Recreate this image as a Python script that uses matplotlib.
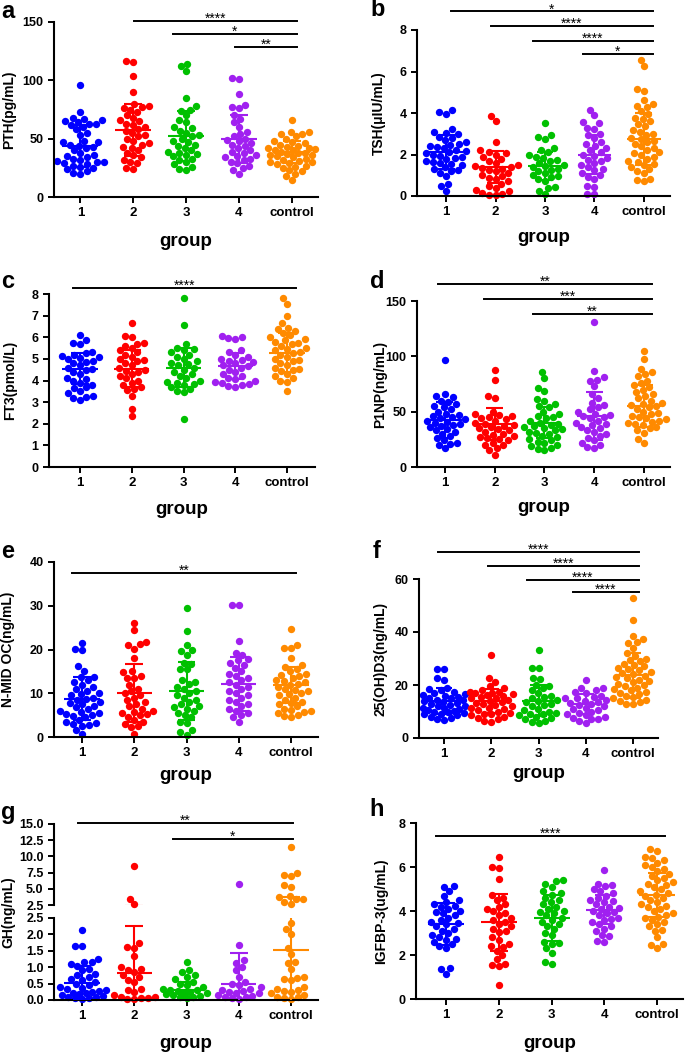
import numpy as np
import matplotlib.pyplot as plt

plt.rcParams['font.family'] = ['Liberation Sans', 'DejaVu Sans']
plt.rcParams['font.weight'] = 'bold'

groups = ['1', '2', '3', '4', 'control']
colors = ['#0000ff', '#ff0000', '#00c000', '#a020f0', '#ff8a00']

# a: PTH
pth = [
    [96, 73, 68, 67, 66, 65, 64, 63, 63, 62, 60, 58, 55, 53, 48, 47, 47, 45, 44, 43,
     42, 40, 38, 36, 35, 34, 33, 32, 31, 30, 30, 29, 28, 27, 26, 25, 24, 22, 21, 20],
    [117, 116, 104, 90, 80, 78, 77, 76, 75, 73, 70, 68, 66, 65, 63, 62, 60, 58, 57, 55,
     53, 52, 50, 48, 46, 45, 43, 42, 40, 38, 36, 34, 32, 30, 29, 25, 24],
    [114, 112, 108, 85, 78, 75, 74, 70, 66, 64, 60, 59, 57, 55, 53, 52, 50, 48, 47, 45,
     44, 42, 40, 39, 38, 37, 36, 35, 33, 32, 30, 28, 26, 24, 23],
    [102, 101, 88, 79, 77, 76, 70, 67, 64, 60, 56, 54, 52, 50, 49, 48, 46, 45, 44, 42,
     40, 39, 38, 36, 35, 34, 33, 32, 30, 29, 27, 25, 23, 20],
    [66, 56, 56, 54, 54, 52, 50, 48, 47, 46, 45, 44, 43, 42, 42, 41, 40, 40, 39, 38,
     38, 37, 36, 36, 35, 34, 33, 32, 31, 30, 30, 29, 28, 27, 26, 25, 23, 22, 20, 18, 15],
]
pth_mean = [44, 57.5, 52, 49.5, 38.5]
pth_sd = [18, 22.5, 21.5, 20.5, 9.5]
pth_sig = [(1.02, 4.1, 150.9, '****'), (1.75, 4.1, 139.7, '*'), (2.92, 4.1, 128.6, '**')]

# b: TSH
tsh = [
    [4.15, 4.05, 3.95, 3.25, 3.1, 3.05, 3.0, 2.85, 2.8, 2.7, 2.6, 2.5, 2.4, 2.35, 2.3,
     2.2, 2.15, 2.1, 2.05, 2.0, 1.9, 1.85, 1.8, 1.7, 1.65, 1.6, 1.5, 1.4, 1.3, 1.25,
     1.2, 1.1, 0.95, 0.6, 0.5, 0.25, 2.45, 1.95, 1.55],
    [3.85, 3.6, 2.6, 2.2, 2.1, 2.05, 2.0, 1.9, 1.8, 1.7, 1.6, 1.5, 1.45, 1.4, 1.35,
     1.3, 1.25, 1.2, 1.1, 1.0, 0.95, 0.85, 0.8, 0.7, 0.6, 0.5, 0.4, 0.3, 0.25, 0.15,
     0.1, 0.05, 0.05],
    [3.5, 2.95, 2.85, 2.75, 2.3, 2.2, 2.1, 2.0, 1.9, 1.85, 1.75, 1.7, 1.6, 1.5, 1.45,
     1.4, 1.3, 1.25, 1.2, 1.1, 1.0, 0.95, 0.9, 0.8, 0.7, 0.45, 0.4, 0.25, 0.1],
    [4.15, 3.9, 3.55, 3.5, 3.3, 3.25, 3.0, 2.95, 2.8, 2.6, 2.5, 2.4, 2.3, 2.2, 2.1,
     2.0, 1.95, 1.85, 1.75, 1.7, 1.6, 1.5, 1.4, 1.3, 1.25, 1.1, 1.0, 0.9, 0.8, 0.5,
     0.45, 0.1, 0.1],
    [6.55, 6.25, 5.15, 5.05, 4.65, 4.45, 4.35, 4.3, 4.1, 3.95, 3.75, 3.7, 3.6, 3.45,
     3.35, 3.2, 3.1, 3.0, 2.95, 2.8, 2.75, 2.65, 2.6, 2.5, 2.4, 2.3, 2.2, 2.1, 2.05,
     2.0, 1.9, 1.8, 1.7, 1.65, 1.55, 1.5, 1.4, 1.3, 1.2, 1.1, 0.8, 0.75, 0.7],
]
tsh_mean = [2.14, 1.4, 1.46, 2.0, 2.73]
tsh_sd = [0.82, 0.78, 0.68, 0.95, 1.25]
tsh_sig = [(0.1, 4.18, 8.9, '*'), (0.91, 4.18, 8.19, '****'),
           (1.76, 4.18, 7.47, '****'), (2.77, 4.18, 6.84, '*')]

# c: FT3
ft3 = [
    [6.1, 5.85, 5.75, 5.7, 5.3, 5.25, 5.2, 5.15, 5.1, 5.05, 5.0, 4.9, 4.85, 4.8, 4.7,
     4.6, 4.55, 4.5, 4.4, 4.3, 4.1, 4.05, 4.0, 3.9, 3.8, 3.7, 3.65, 3.5, 3.4, 3.3,
     3.25, 3.2, 3.1],
    [6.65, 6.05, 6.0, 5.75, 5.7, 5.6, 5.5, 5.4, 5.3, 5.2, 5.1, 5.0, 4.95, 4.9, 4.8,
     4.7, 4.6, 4.5, 4.45, 4.4, 4.3, 4.2, 4.1, 4.0, 3.9, 3.8, 3.7, 3.6, 3.55, 3.3,
     2.7, 2.35],
    [7.8, 6.55, 5.7, 5.5, 5.45, 5.4, 5.3, 5.2, 5.1, 5.0, 4.9, 4.8, 4.75, 4.7, 4.6,
     4.5, 4.4, 4.3, 4.2, 4.1, 4.0, 3.95, 3.9, 3.85, 3.8, 3.7, 3.6, 3.5, 3.45, 2.2],
    [6.05, 6.0, 5.95, 5.9, 5.4, 5.3, 5.2, 5.1, 5.0, 4.95, 4.9, 4.85, 4.8, 4.7, 4.65,
     4.6, 4.5, 4.4, 4.3, 4.2, 4.1, 4.05, 4.0, 3.95, 3.9, 3.85, 3.8, 3.75, 3.7],
    [7.8, 7.55, 7.0, 6.65, 6.45, 6.4, 6.3, 6.2, 6.1, 6.0, 5.9, 5.85, 5.8, 5.75, 5.7,
     5.6, 5.5, 5.45, 5.4, 5.3, 5.25, 5.2, 5.1, 5.0, 4.95, 4.9, 4.8, 4.7, 4.6, 4.55,
     4.5, 4.45, 4.3, 4.2, 4.1, 4.0, 3.95, 3.5],
]
ft3_mean = [4.55, 4.55, 4.6, 4.66, 5.29]
ft3_sd = [0.7, 0.85, 0.92, 0.6, 0.92]
ft3_sig = [(-0.13, 4.17, 8.28, '****')]

# d: P1NP
p1np = [
    [97, 66, 64, 63, 60, 59, 57, 55, 54, 52, 50, 48, 47, 46, 45, 44, 43, 42, 41, 40,
     39, 38, 37, 36, 34, 33, 32, 30, 28, 26, 24, 22, 21, 20, 17],
    [88, 79, 64, 62, 50, 48, 47, 46, 45, 44, 43, 42, 40, 39, 38, 37, 36, 35, 34, 33,
     32, 30, 29, 28, 27, 26, 25, 24, 22, 20, 20, 17, 15, 11],
    [86, 80, 71, 69, 61, 60, 57, 55, 54, 50, 48, 46, 45, 44, 42, 40, 39, 38, 37, 36,
     35, 34, 33, 32, 31, 30, 28, 27, 25, 24, 23, 22, 20, 19, 17, 16, 15],
    [131, 87, 81, 79, 78, 73, 66, 62, 58, 56, 54, 52, 50, 48, 47, 46, 45, 44, 42, 40,
     39, 38, 36, 35, 33, 32, 30, 28, 26, 24, 22, 20, 18, 17],
    [105, 98, 89, 86, 84, 82, 78, 76, 74, 72, 70, 68, 66, 64, 62, 60, 58, 57, 56, 55,
     54, 52, 50, 49, 48, 46, 45, 44, 43, 42, 41, 40, 39, 38, 36, 35, 33, 31, 25, 22],
]
p1np_mean = [42.5, 38.5, 40, 46.2, 55.5]
p1np_sd = [16, 14.5, 14, 22, 19]
p1np_sig = [(-0.14, 4.16, 165.3, '**'), (0.78, 4.16, 151.8, '***'), (1.76, 4.16, 138.2, '**')]

# e: N-MID OC
nmid = [
    [21.5, 20.2, 19.8, 16.2, 15.2, 13.8, 13.7, 13.0, 12.5, 12.0, 11.5, 11.0, 10.5, 10.0,
     9.8, 9.5, 9.0, 8.8, 8.5, 8.0, 7.8, 7.5, 7.0, 6.8, 6.5, 6.0, 5.8, 5.5, 5.2, 5.0,
     4.8, 4.5, 4.0, 3.5, 3.2, 3.0, 2.8, 2.6, 1.6, 0.8],
    [26.0, 24.4, 21.7, 21.2, 21.0, 20.2, 18.0, 15.0, 14.9, 14.0, 13.6, 13.5, 12.0, 11.0,
     10.5, 10.0, 9.5, 9.0, 8.5, 8.0, 7.5, 7.0, 6.5, 6.0, 5.7, 5.5, 5.2, 5.0, 4.5, 4.0,
     3.5, 3.0, 2.5, 2.2, 0.8],
    [29.6, 24.3, 21.0, 19.8, 19.7, 18.8, 17.0, 16.8, 15.6, 15.5, 13.0, 12.5, 12.2, 11.5,
     11.0, 10.5, 10.0, 9.5, 9.0, 8.5, 8.0, 7.5, 7.0, 6.8, 6.5, 6.0, 5.5, 5.0, 4.5, 3.5,
     3.3, 1.5, 1.2, 0.4],
    [30.1, 30.1, 22.0, 19.3, 18.8, 17.8, 17.5, 17.0, 16.5, 15.8, 15.0, 14.5, 14.0, 13.5,
     13.0, 12.5, 12.0, 11.5, 11.0, 10.5, 10.0, 9.5, 9.0, 8.5, 8.0, 7.5, 7.0, 6.5, 6.0,
     5.5, 5.0, 4.5, 3.5],
    [24.6, 21.0, 20.3, 20.3, 18.0, 16.5, 16.0, 15.5, 15.0, 14.5, 14.2, 14.0, 13.5, 13.0,
     12.8, 12.5, 12.2, 12.0, 11.5, 11.0, 10.8, 10.5, 10.0, 9.8, 9.5, 9.0, 8.5, 8.0, 7.8,
     7.5, 7.0, 6.5, 6.2, 6.0, 5.8, 5.5, 5.0, 4.8, 4.6],
]
nmid_mean = [8.8, 10.0, 10.6, 12.1, 11.9]
nmid_sd = [4.9, 6.6, 6.6, 6.1, 4.2]
nmid_sig = [(-0.19, 4.1, 37.5, '**')]

# f: 25(OH)D3
vd = [
    [26.2, 26.0, 22.7, 22.0, 19.0, 18.5, 18.0, 17.5, 17.0, 16.5, 16.2, 16.0, 15.5, 15.2,
     15.0, 14.5, 14.2, 14.0, 13.5, 13.2, 13.0, 12.5, 12.2, 12.0, 11.5, 11.2, 11.0, 10.5,
     10.2, 10.0, 9.8, 9.5, 9.2, 9.0, 8.5, 8.0, 7.5, 7.0, 6.8],
    [31.2, 22.8, 21.3, 19.5, 19.0, 18.0, 17.5, 17.2, 17.0, 16.8, 16.5, 16.2, 16.0, 15.5,
     15.2, 15.0, 14.5, 14.0, 13.5, 13.2, 13.0, 12.5, 12.0, 11.5, 11.2, 11.0, 10.5, 10.0,
     9.5, 9.2, 9.0, 8.5, 8.0, 7.5, 7.0, 6.5, 6.2],
    [33.2, 26.6, 26.5, 22.5, 22.2, 20.0, 19.8, 19.0, 18.0, 17.0, 16.0, 15.5, 15.0, 14.5,
     14.0, 13.5, 13.0, 12.5, 12.0, 11.0, 10.5, 10.0, 9.5, 9.2, 9.0, 8.5, 8.0, 7.5, 7.0,
     6.5, 6.0, 5.5],
    [21.8, 19.0, 18.8, 18.0, 17.5, 17.0, 16.0, 15.5, 15.2, 15.0, 14.5, 14.0, 13.5, 13.2,
     13.0, 12.5, 12.0, 11.5, 11.0, 10.5, 10.0, 9.5, 9.0, 8.5, 8.0, 7.5, 7.2, 7.0, 6.5,
     5.5],
    [52.7, 44.5, 38.4, 37.5, 36.2, 36.0, 34.0, 32.0, 31.0, 30.0, 29.5, 29.0, 28.0, 27.5,
     27.0, 26.5, 26.0, 25.5, 25.0, 24.5, 24.0, 23.5, 23.0, 22.5, 22.0, 21.5, 21.0, 20.5,
     20.0, 19.5, 19.0, 18.5, 18.0, 17.5, 17.0, 16.5, 16.0, 15.5, 15.0, 14.5, 14.0, 13.5,
     13.0, 12.8],
]
vd_mean = [13.9, 14.0, 14.1, 12.8, 23.6]
vd_sd = [5.0, 4.5, 5.9, 3.8, 8.4]
vd_sig = [(-0.13, 4.13, 70.2, '****'), (0.93, 4.13, 64.9, '****'),
          (1.75, 4.13, 59.6, '****'), (2.72, 4.13, 55.1, '****')]

# g: GH (broken axis)
gh = [
    [2.12, 1.65, 1.65, 1.25, 1.15, 1.15, 1.1, 1.05, 0.95, 0.9, 0.8, 0.75, 0.7, 0.65,
     0.6, 0.55, 0.5, 0.45, 0.4, 0.38, 0.35, 0.3, 0.28, 0.25, 0.22, 0.2, 0.18, 0.15,
     0.12, 0.1, 0.08, 0.05, 0.05, 0.03],
    [8.5, 3.4, 2.6, 1.75, 1.62, 1.6, 1.35, 1.0, 0.95, 0.9, 0.85, 0.75, 0.7, 0.6, 0.55,
     0.35, 0.3, 0.25, 0.15, 0.1, 0.08, 0.05, 0.05, 0.03, 0.02],
    [1.15, 0.9, 0.85, 0.75, 0.7, 0.65, 0.55, 0.5, 0.45, 0.4, 0.35, 0.3, 0.3, 0.28, 0.25,
     0.22, 0.2, 0.18, 0.15, 0.12, 0.1, 0.08, 0.05],
    [5.8, 1.68, 1.22, 1.12, 1.02, 0.9, 0.7, 0.55, 0.5, 0.45, 0.4, 0.35, 0.3, 0.28, 0.25,
     0.22, 0.2, 0.15, 0.12, 0.1, 0.08, 0.05, 0.03],
    [11.5, 7.4, 7.2, 7.0, 5.6, 5.3, 3.9, 3.7, 3.5, 3.4, 3.0, 2.7, 2.35, 2.15, 2.0, 1.6,
     1.4, 1.17, 1.13, 0.93, 0.7, 0.68, 0.65, 0.6, 0.4, 0.35, 0.3, 0.28, 0.25, 0.2, 0.15,
     0.1, 0.08, 0.05, 0.03],
]
gh_mean = [0.53, 0.82, 0.3, 0.5, 1.52]
gh_sd = [0.5, 1.45, 0.25, 0.94, 2.27]
gh_sig = [(-0.08, 4.04, 15.15, '**'), (1.74, 4.04, 12.7, '*')]

# h: IGFBP-3
igf = [
    [5.15, 5.1, 4.9, 4.7, 4.5, 4.4, 4.3, 4.25, 4.2, 4.1, 4.0, 3.95, 3.9, 3.8, 3.7, 3.6,
     3.5, 3.45, 3.4, 3.3, 3.2, 3.1, 3.0, 2.9, 2.8, 2.75, 2.7, 2.6, 2.5, 2.4, 2.3, 1.4,
     1.35, 1.15],
    [6.45, 6.0, 5.95, 5.45, 4.75, 4.6, 4.5, 4.3, 4.2, 4.1, 4.0, 3.9, 3.8, 3.7, 3.6, 3.5,
     3.4, 3.3, 3.2, 3.1, 3.05, 2.8, 2.7, 2.5, 2.4, 2.35, 2.2, 2.0, 1.8, 1.6, 1.55, 1.5,
     0.65],
    [5.4, 5.35, 5.25, 5.1, 4.9, 4.8, 4.75, 4.6, 4.5, 4.4, 4.3, 4.2, 4.1, 4.0, 3.95, 3.9,
     3.8, 3.7, 3.6, 3.5, 3.4, 3.3, 3.2, 3.0, 2.9, 2.6, 2.55, 2.5, 2.3, 2.1, 1.7, 1.6],
    [5.85, 5.25, 5.2, 5.15, 5.0, 4.9, 4.8, 4.7, 4.6, 4.5, 4.45, 4.4, 4.3, 4.2, 4.15, 4.1,
     4.0, 3.95, 3.9, 3.8, 3.7, 3.65, 3.6, 3.5, 3.4, 3.3, 3.2, 3.1, 2.9, 2.85, 2.65, 2.6],
    [6.8, 6.75, 6.45, 6.4, 6.3, 6.2, 6.1, 6.0, 5.9, 5.8, 5.7, 5.6, 5.5, 5.4, 5.3, 5.25,
     5.2, 5.1, 5.0, 4.9, 4.8, 4.75, 4.7, 4.6, 4.5, 4.4, 4.3, 4.25, 4.2, 4.1, 4.0, 3.9,
     3.8, 3.75, 3.7, 3.6, 3.5, 3.4, 3.3, 3.15, 3.1, 2.8, 2.5, 2.45, 2.3],
]
igf_mean = [3.41, 3.48, 3.68, 4.06, 4.74]
igf_sd = [0.95, 1.3, 1.05, 0.65, 1.0]
igf_sig = [(-0.19, 4.15, 7.41, '****')]

W, H = 685, 1054
fig = plt.figure(figsize=(W / 100, H / 100), dpi=100)


def px_axes(left, right, top, bottom):
    return fig.add_axes([left / W, 1 - bottom / H, (right - left) / W, (bottom - top) / H])


def swarm_x(ax, xi, vals, d=7.0, frac=0.45):
    # simple beeswarm in pixel space
    vals = np.asarray(vals, float)
    pts = ax.transData.transform(np.column_stack([np.full(len(vals), xi), vals]))
    ypx = pts[:, 1]
    unit = ax.transData.transform([[1, 0]])[0, 0] - ax.transData.transform([[0, 0]])[0, 0]
    maxw = frac * unit
    px_list, py_list = [], []
    off = np.zeros(len(vals))
    for k in np.argsort(ypx, kind='stable'):
        y = ypx[k]
        cands = [0.0]
        for px, py in zip(px_list, py_list):
            dy = y - py
            if abs(dy) < d:
                dx = np.sqrt(d * d - dy * dy)
                cands += [px + dx, px - dx]
        cands = sorted(set(cands), key=lambda c: (abs(c), c))
        best = None
        for c in cands:
            if abs(c) > maxw:
                continue
            if all((c - px) ** 2 + (y - py) ** 2 >= d * d - 1e-6 for px, py in zip(px_list, py_list)):
                best = c
                break
        if best is None:
            grid = np.linspace(-maxw, maxw, 41)
            best = max(grid, key=lambda c: min((c - px) ** 2 + (y - py) ** 2
                                               for px, py in zip(px_list, py_list)))
        off[k] = best
        px_list.append(best)
        py_list.append(y)
    return xi + off / unit


def style(ax, bottom=True):
    for s in ['top', 'right']:
        ax.spines[s].set_visible(False)
    ax.spines['left'].set_linewidth(1.5)
    ax.spines['bottom'].set_linewidth(1.5)
    ax.tick_params(axis='both', direction='out', length=4, width=1.4)
    ax.tick_params(axis='y', labelsize=9)
    if bottom:
        ax.set_xticks(range(5))
        ax.set_xticklabels(groups, fontsize=9.5, fontweight='bold')
    else:
        ax.spines['bottom'].set_visible(False)
        ax.set_xticks([])


def draw_group_stats(ax, mean, sd):
    for i in range(5):
        c = colors[i]
        ax.hlines(mean[i], i - 0.34, i + 0.34, color=c, lw=1.5, zorder=3)
        ax.vlines(i, mean[i] - sd[i], mean[i] + sd[i], color=c, lw=1.5, zorder=3)
        ax.hlines([mean[i] - sd[i], mean[i] + sd[i]], i - 0.17, i + 0.17, color=c, lw=1.5, zorder=3)


def draw_points(ax, data, keep=None):
    for i, vals in enumerate(data):
        vals = np.asarray(vals, float)
        if keep is not None:
            vals = vals[keep(vals)]
        if len(vals) == 0:
            continue
        xs = swarm_x(ax, i, vals)
        ax.scatter(xs, vals, s=28, color=colors[i], linewidths=0, zorder=2, clip_on=False)


def draw_sig(ax, sig):
    for x0, x1, y, stars in sig:
        ax.plot([x0, x1], [y, y], color='black', lw=1.4, clip_on=False)
        ax.annotate(stars, xy=((x0 + x1) / 2, y), xytext=(0, -1.5), textcoords='offset points',
                    ha='center', va='baseline', fontsize=10, fontweight='normal',
                    annotation_clip=False)


def annotate(letter, lx, ly, ylab, yx, yy, gx, gy):
    fig.text(lx / W, 1 - ly / H, letter, fontsize=17, fontweight='bold', ha='center', va='center')
    fig.text(yx / W, 1 - yy / H, ylab, fontsize=10, fontweight='bold', rotation=90,
             ha='center', va='center')
    fig.text(gx / W, 1 - gy / H, 'group', fontsize=13.5, fontweight='bold', ha='center', va='center')


panels = [
    # letter, ylabel, data, mean, sd, sig, ylim, yticks, (l, r, t, b), xlim, letter xy, ylabel x, group y
    ('a', 'PTH(pg/mL)', pth, pth_mean, pth_sd, pth_sig, (0, 150), [0, 50, 100, 150],
     (54, 318, 22, 197), (-0.5, 4.5), (8, 12), 9, 241),
    ('b', 'TSH(μIU/mL)', tsh, tsh_mean, tsh_sd, tsh_sig, (0, 8), [0, 2, 4, 6, 8],
     (417, 670, 30, 196), (-0.59, 4.53), (378, 10), 379, 237),
    ('c', 'FT3(pmol/L)', ft3, ft3_mean, ft3_sd, ft3_sig, (0, 8), list(range(9)),
     (49, 315, 294, 467), (-0.6, 4.54), (8, 281), 10, 510),
    ('d', 'P1NP(ng/mL)', p1np, p1np_mean, p1np_sd, p1np_sig, (0, 150), [0, 50, 100, 150],
     (417, 670, 301, 467), (-0.56, 4.52), (377, 281), 380, 508),
    ('e', 'N-MID OC(ng/mL)', nmid, nmid_mean, nmid_sd, nmid_sig, (0, 40), [0, 10, 20, 30, 40],
     (54, 318, 562, 737), (-0.54, 4.52), (8, 552), 8, 775),
    ('f', '25(OH)D3(ng/mL)', vd, vd_mean, vd_sd, vd_sig, (0, 60), [0, 20, 40, 60],
     (419, 658, 579, 738), (-0.53, 4.53), (377, 551), 380, 773),
    ('h', 'IGFBP-3(ug/mL)', igf, igf_mean, igf_sd, igf_sig, (0, 8), [0, 2, 4, 6, 8],
     (416, 683, 823, 999), (-0.57, 4.49), (377, 810), 381, 1043),
]

for (letter, ylab, data, mean, sd, sig, ylim, yticks, box, xlim, lxy, yx, gy) in panels:
    l, r, t, b = box
    ax = px_axes(l, r, t, b)
    ax.set_xlim(*xlim)
    ax.set_ylim(*ylim)
    ax.set_yticks(yticks)
    style(ax)
    draw_points(ax, data)
    draw_group_stats(ax, mean, sd)
    draw_sig(ax, sig)
    annotate(letter, lxy[0], lxy[1], ylab, yx, (t + b) / 2, (l + r) / 2, gy)

# g: broken y axis
ax_lo = px_axes(54, 318, 918, 1000)
ax_hi = px_axes(54, 318, 824, 905)
ax_lo.set_xlim(-0.54, 4.52)
ax_hi.set_xlim(-0.54, 4.52)
ax_lo.set_ylim(0, 2.5)
ax_hi.set_ylim(2.5, 15)
ax_lo.set_yticks([0, 0.5, 1.0, 1.5, 2.0, 2.5])
ax_hi.set_yticks([2.5, 5.0, 7.5, 10.0, 12.5, 15.0])
for a_ in (ax_lo, ax_hi):
    a_.yaxis.set_major_formatter(plt.FormatStrFormatter('%.1f'))
style(ax_lo)
style(ax_hi, bottom=False)
draw_points(ax_lo, gh, keep=lambda v: v <= 2.5)
draw_points(ax_hi, gh, keep=lambda v: v > 2.5)
draw_group_stats(ax_lo, gh_mean, gh_sd)
draw_group_stats(ax_hi, gh_mean, gh_sd)
draw_sig(ax_hi, gh_sig)
annotate('g', 8, 812, 'GH(ng/mL)', 8, 912, 186, 1043)

fig.savefig('out.png', dpi=100)
